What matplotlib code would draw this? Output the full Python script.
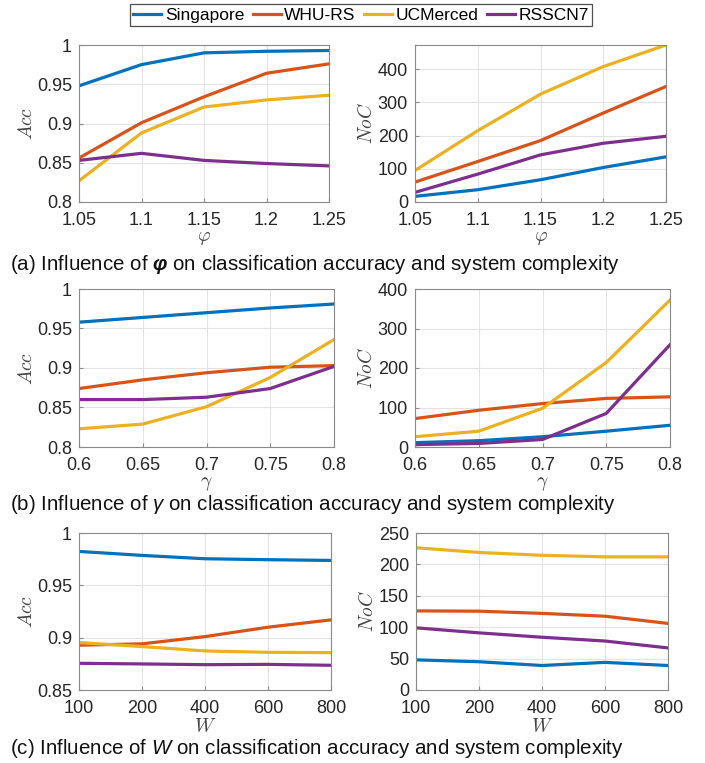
import numpy as np
import matplotlib
matplotlib.use("Agg")
import matplotlib.pyplot as plt

plt.rcParams['font.family'] = ['Liberation Sans', 'DejaVu Sans']
plt.rcParams['mathtext.fontset'] = 'custom'
plt.rcParams['mathtext.rm'] = 'Liberation Sans'
plt.rcParams['mathtext.it'] = 'Liberation Sans:italic'
plt.rcParams['mathtext.bf'] = 'Liberation Sans:bold'
plt.rcParams['mathtext.bfit'] = 'Liberation Sans:italic:bold'

names = ['Singapore', 'WHU-RS', 'UCMerced', 'RSSCN7']
colors = ['#0072BD', '#D95319', '#EDB120', '#7E2F8E']

# (a) phi
phi = [1.05, 1.1, 1.15, 1.2, 1.25]
acc_phi = {
    'Singapore': [0.948, 0.975, 0.990, 0.992, 0.993],
    'WHU-RS': [0.856, 0.901, 0.934, 0.964, 0.976],
    'UCMerced': [0.827, 0.888, 0.921, 0.930, 0.936],
    'RSSCN7': [0.853, 0.862, 0.853, 0.849, 0.846],
}
noc_phi = {
    'Singapore': [17, 37, 67, 104, 136],
    'WHU-RS': [60, 122, 185, 268, 348],
    'UCMerced': [95, 215, 325, 408, 473],
    'RSSCN7': [29, 84, 142, 177, 198],
}

# (b) gamma
gamma = [0.6, 0.65, 0.7, 0.75, 0.8]
acc_gamma = {
    'Singapore': [0.958, 0.964, 0.970, 0.976, 0.981],
    'WHU-RS': [0.874, 0.885, 0.894, 0.901, 0.903],
    'UCMerced': [0.823, 0.829, 0.851, 0.888, 0.936],
    'RSSCN7': [0.860, 0.860, 0.863, 0.874, 0.902],
}
noc_gamma = {
    'Singapore': [11, 16, 26, 40, 55],
    'WHU-RS': [72, 93, 110, 123, 127],
    'UCMerced': [26, 40, 98, 214, 372],
    'RSSCN7': [6, 9, 19, 85, 259],
}

# (c) W (equally spaced categories)
w_labels = ['100', '200', '400', '600', '800']
acc_w = {
    'Singapore': [0.9824, 0.9786, 0.9754, 0.9745, 0.9738],
    'WHU-RS': [0.8928, 0.8941, 0.9010, 0.9100, 0.9170],
    'UCMerced': [0.8953, 0.8915, 0.8873, 0.8860, 0.8857],
    'RSSCN7': [0.8755, 0.8749, 0.8742, 0.8745, 0.8736],
}
noc_w = {
    'Singapore': [48, 45, 39, 44, 39],
    'WHU-RS': [126, 125.5, 122, 117.5, 106],
    'UCMerced': [226.5, 219, 214.5, 212, 212],
    'RSSCN7': [99, 91, 84, 78, 67],
}

captions = [
    r'(a) Influence of $\mathbfit{\varphi}$ on classification accuracy and system complexity',
    r'(b) Influence of $\gamma$ on classification accuracy and system complexity',
    r'(c) Influence of $W$ on classification accuracy and system complexity',
]

fig = plt.figure(figsize=(7.05, 7.63), dpi=100)

W_, H_ = 705.0, 763.0
def ax_at(x0, x1, y0, y1):
    return fig.add_axes([x0 / W_, 1 - y1 / H_, (x1 - x0) / W_, (y1 - y0) / H_])

def style(ax, xlabel, ylabel):
    ax.grid(True, color='#e3e3e3', linewidth=0.8)
    ax.set_axisbelow(True)
    for s in ax.spines.values():
        s.set_color('#8a8a8a')
        s.set_linewidth(0.8)
    ax.tick_params(direction='in', length=3, colors='#8a8a8a', labelcolor='#262626',
                   labelsize=13)
    ax.tick_params(axis='x', pad=7)
    ax.tick_params(axis='y', pad=5)
    ax.set_xlabel(xlabel, fontsize=14, color='#444444', labelpad=1, math_fontfamily='cm')
    ax.set_ylabel(ylabel, fontsize=14, color='#444444', labelpad=1, math_fontfamily='cm')

def draw(ax, x, data):
    lines = []
    for n, c in zip(names, colors):
        ln, = ax.plot(x, data[n], color=c, linewidth=2.3, label=n)
        lines.append(ln)
    return lines

# row a
ax = ax_at(79, 329, 45, 202)
lines = draw(ax, phi, acc_phi)
ax.set_xlim(1.05, 1.25); ax.set_ylim(0.8, 1.0)
ax.set_xticks(phi); ax.set_xticklabels(['1.05', '1.1', '1.15', '1.2', '1.25'])
ax.set_yticks([0.8, 0.85, 0.9, 0.95, 1.0]); ax.set_yticklabels(['0.8', '0.85', '0.9', '0.95', '1'])
style(ax, r'$\varphi$', r'$Acc$')

ax = ax_at(415, 666, 45, 202)
draw(ax, phi, noc_phi)
ax.set_xlim(1.05, 1.25); ax.set_ylim(0, max(noc_phi['UCMerced']))
ax.set_xticks(phi); ax.set_xticklabels(['1.05', '1.1', '1.15', '1.2', '1.25'])
ax.set_yticks([0, 100, 200, 300, 400])
style(ax, r'$\varphi$', r'$NoC$')

# row b
ax = ax_at(79, 334, 289, 447)
draw(ax, gamma, acc_gamma)
ax.set_xlim(0.6, 0.8); ax.set_ylim(0.8, 1.0)
ax.set_xticks(gamma); ax.set_xticklabels(['0.6', '0.65', '0.7', '0.75', '0.8'])
ax.set_yticks([0.8, 0.85, 0.9, 0.95, 1.0]); ax.set_yticklabels(['0.8', '0.85', '0.9', '0.95', '1'])
style(ax, r'$\gamma$', r'$Acc$')

ax = ax_at(415, 670, 289, 447)
draw(ax, gamma, noc_gamma)
ax.set_xlim(0.6, 0.8); ax.set_ylim(0, 400)
ax.set_xticks(gamma); ax.set_xticklabels(['0.6', '0.65', '0.7', '0.75', '0.8'])
ax.set_yticks([0, 100, 200, 300, 400])
style(ax, r'$\gamma$', r'$NoC$')

# row c
xw = np.arange(len(w_labels))
ax = ax_at(79, 331, 533, 690)
draw(ax, xw, acc_w)
ax.set_xlim(0, 4); ax.set_ylim(0.85, 1.0)
ax.set_xticks(xw); ax.set_xticklabels(w_labels)
ax.set_yticks([0.85, 0.9, 0.95, 1.0]); ax.set_yticklabels(['0.85', '0.9', '0.95', '1'])
style(ax, r'$W$', r'$Acc$')

ax = ax_at(416, 668, 533, 690)
draw(ax, xw, noc_w)
ax.set_xlim(0, 4); ax.set_ylim(0, 250)
ax.set_xticks(xw); ax.set_xticklabels(w_labels)
ax.set_yticks([0, 50, 100, 150, 200, 250])
style(ax, r'$W$', r'$NoC$')

for cap, yc in zip(captions, [264, 505, 748]):
    fig.text(10 / W_, 1 - yc / H_, cap, fontsize=14.8, color='#111111', va='center', ha='left')

leg = fig.legend(handles=lines, labels=names, loc='center', bbox_to_anchor=(361 / W_, 1 - 15 / H_),
                 ncol=4, fontsize=12.5, frameon=True, fancybox=False, handlelength=1.6,
                 handletextpad=0.2, columnspacing=0.5, borderpad=0.2, borderaxespad=0)
leg.get_frame().set_edgecolor('#222222')
leg.get_frame().set_linewidth(0.9)

fig.savefig('out.png', dpi=100)
